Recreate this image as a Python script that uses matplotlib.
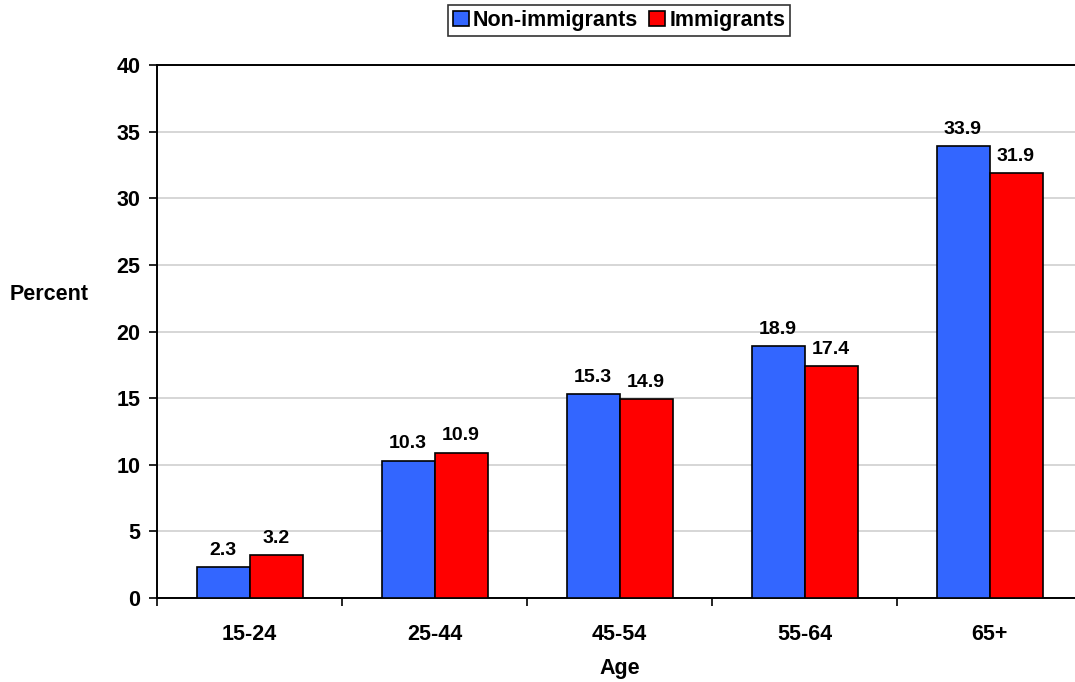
import matplotlib
matplotlib.use("Agg")
import matplotlib.pyplot as plt
import numpy as np

age_groups = ["15-24", "25-44", "45-54", "55-64", "65+"]
non_immigrants = [2.3, 10.3, 15.3, 18.9, 33.9]
immigrants = [3.2, 10.9, 14.9, 17.4, 31.9]
series_names = ["Non-immigrants", "Immigrants"]
y_ticks = [0, 5, 10, 15, 20, 25, 30, 35, 40]

plt.rcParams["font.family"] = ["Liberation Sans", "DejaVu Sans"]
plt.rcParams["font.weight"] = "bold"

W, H = 1075, 682
fig = plt.figure(figsize=(W / 100, H / 100), dpi=100)
left, right, top, bottom = 157, 1082, 65, 598
ax = fig.add_axes([left / W, 1 - bottom / H, (right - left) / W, (bottom - top) / H])

x = np.arange(len(age_groups))
bw = 53 / 185
b1 = ax.bar(x - bw / 2, non_immigrants, bw, color="#3366FF", edgecolor="black",
            linewidth=1.2, label=series_names[0], zorder=3)
b2 = ax.bar(x + bw / 2, immigrants, bw, color="#FF0000", edgecolor="black",
            linewidth=1.2, label=series_names[1], zorder=3)

for bars, vals in ((b1, non_immigrants), (b2, immigrants)):
    for rect, v in zip(bars, vals):
        ax.annotate(f"{v:.1f}", (rect.get_x() + rect.get_width() / 2, v),
                    xytext=(0, 6), textcoords="offset points",
                    ha="center", va="bottom", fontsize=14, fontweight="bold")

ax.set_xlim(-0.5, len(age_groups) - 0.5)
ax.set_ylim(0, 40)
ax.set_yticks(y_ticks)
ax.set_yticklabels([str(t) for t in y_ticks], fontsize=15.5, fontweight="bold")
ax.yaxis.grid(True, color="#D0D0D0", linewidth=1.2, zorder=0)
ax.set_axisbelow(True)

ax.set_xticks(x)
ax.set_xticklabels(age_groups, fontsize=15.5, fontweight="bold")
ax.tick_params(axis="x", length=0, pad=19)
ax.set_xticks(np.arange(-0.5, len(age_groups) + 0.5, 1.0), minor=True)
ax.tick_params(axis="x", which="minor", length=6, width=1.2, direction="out")
ax.tick_params(axis="y", length=6, width=1.2, direction="out", pad=6)

for s in ("left", "bottom", "top"):
    ax.spines[s].set_linewidth(1.4)
ax.spines["right"].set_visible(False)

ax.set_xlabel("Age", fontsize=15.5, fontweight="bold", labelpad=9)
fig.text(10 / W, 1 - 294 / H, "Percent", fontsize=15.5, fontweight="bold",
         ha="left", va="center")

leg = fig.legend(handles=[b1, b2], loc="center", bbox_to_anchor=(619 / W, 1 - 20.5 / H),
                 ncol=2, fontsize=15.5, frameon=True, fancybox=False, edgecolor="black",
                 handlelength=0.75, handleheight=0.75, handletextpad=0.2,
                 columnspacing=0.5, borderpad=0.22, borderaxespad=0)
leg.get_frame().set_linewidth(1.2)
for t in leg.get_texts():
    t.set_fontweight("bold")

fig.savefig("out.png", dpi=100)
